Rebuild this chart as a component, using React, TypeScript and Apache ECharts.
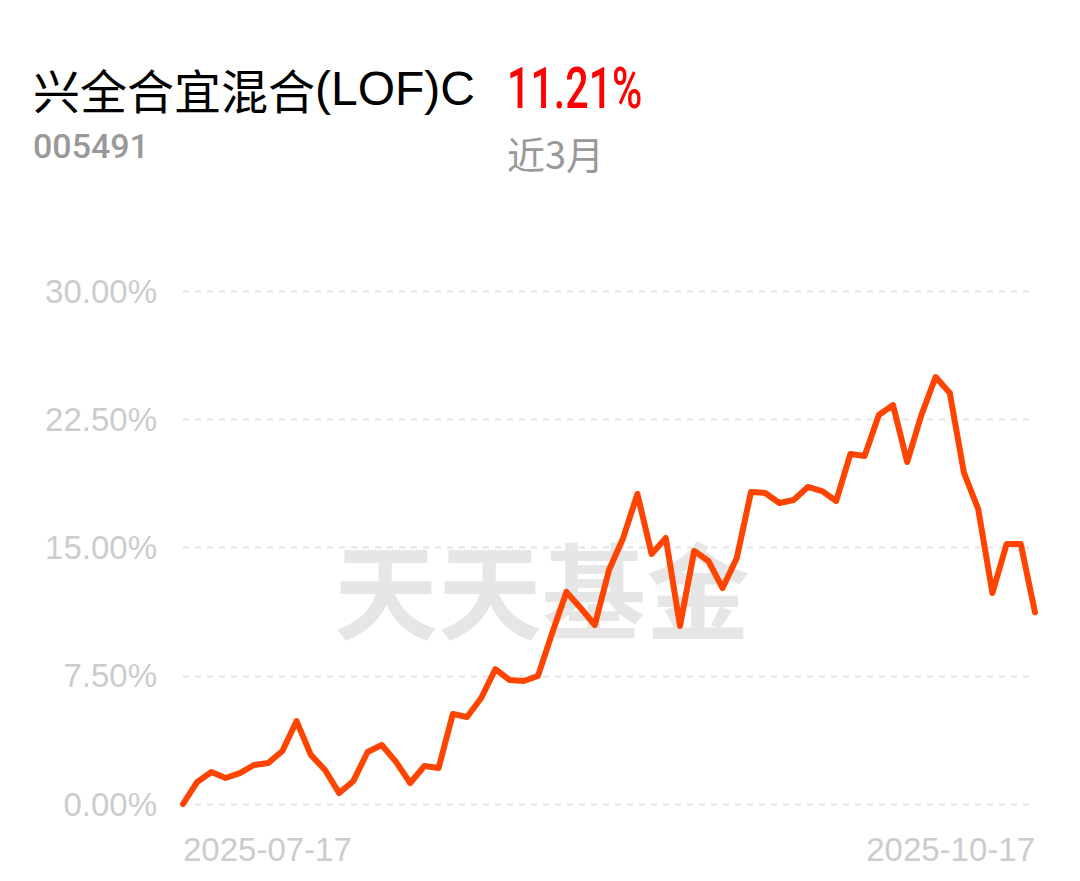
import React, { useEffect, useRef } from "react";
import * as echarts from "echarts";

const fundNameCn = "兴全合宜混合";
const fundNameLatin = "(LOF)C";
const fundCode = "005491";
const periodReturn = "11.21%";
const periodLabel = "近3月";
const watermark = "天天基金";

const dates: string[] = [
  "2025-07-17","2025-07-18","2025-07-21","2025-07-22","2025-07-23","2025-07-24","2025-07-25","2025-07-28","2025-07-29","2025-07-30","2025-07-31",
  "2025-08-01","2025-08-04","2025-08-05","2025-08-06","2025-08-07","2025-08-08","2025-08-11","2025-08-12","2025-08-13","2025-08-14","2025-08-15",
  "2025-08-18","2025-08-19","2025-08-20","2025-08-21","2025-08-22","2025-08-25","2025-08-26","2025-08-27","2025-08-28","2025-08-29",
  "2025-09-01","2025-09-02","2025-09-03","2025-09-04","2025-09-05","2025-09-08","2025-09-09","2025-09-10","2025-09-11","2025-09-12",
  "2025-09-15","2025-09-16","2025-09-17","2025-09-18","2025-09-19","2025-09-22","2025-09-23","2025-09-24","2025-09-25","2025-09-26",
  "2025-09-29","2025-09-30","2025-10-09","2025-10-10","2025-10-13","2025-10-14","2025-10-15","2025-10-16","2025-10-17"
];

const returns: number[] = [
  0, 1.29, 1.87, 1.52, 1.81, 2.28, 2.40, 3.10, 4.85, 2.87, 1.99,
  0.64, 1.35, 3.04, 3.45, 2.46, 1.23, 2.22, 2.11, 5.26, 5.09,
  6.20, 7.89, 7.25, 7.19, 7.49, 10.0, 12.40, 11.46, 10.47, 13.68,
  15.56, 18.13, 14.62, 15.56, 10.41, 14.80, 14.21, 12.63, 14.39, 18.25,
  18.19, 17.60, 17.78, 18.54, 18.30, 17.72, 20.47, 20.35, 22.75, 23.33,
  20.0, 22.75, 24.97, 24.04, 19.36, 17.25, 12.34, 15.20, 15.20, 11.21
];

const yTicks = { min: 0, max: 30, interval: 7.5 };

export default function App() {
  const ref = useRef<HTMLDivElement>(null);
  useEffect(() => {
    if (!ref.current) return;
    const chart = echarts.init(ref.current, null, { renderer: "svg" });
    const last = dates.length - 1;
    chart.setOption({
      animation: false,
      backgroundColor: "#ffffff",
      grid: { left: 183, right: 45, top: 291, bottom: 77, containLabel: false },
      graphic: [
        {
          type: "text", z: -10, x: 542, y: 586,
          style: { text: watermark, font: "bold 104px 'Noto Sans CJK SC'", fill: "#e6e6e6", align: "center", verticalAlign: "middle" }
        },
        {
          type: "text", x: 33, y: 88,
          style: {
            text: "{cn|" + fundNameCn + "}{lt|" + fundNameLatin + "}",
            align: "left", verticalAlign: "middle",
            rich: {
              cn: { font: "47px 'Noto Sans CJK SC'", fill: "#000000", color: "#000000" },
              lt: { font: "48px 'Liberation Sans', Arial, sans-serif", fill: "#000000", color: "#000000" }
            }
          }
        },
        {
          type: "text", x: 507, y: 88, scaleX: 0.71,
          style: { text: periodReturn, font: "500 58px Roboto", fill: "#ff0000", align: "left", verticalAlign: "middle" }
        },
        {
          type: "text", x: 33, y: 146,
          style: { text: fundCode, font: "500 34px Roboto", fill: "#999999", align: "left", verticalAlign: "middle" }
        },
        {
          type: "text", x: 507, y: 152,
          style: { text: periodLabel, font: "38px 'Noto Sans CJK SC'", fill: "#999999", align: "left", verticalAlign: "middle" }
        }
      ],
      xAxis: {
        type: "category",
        data: dates,
        boundaryGap: false,
        axisLine: { show: false },
        axisTick: { show: false },
        axisLabel: {
          interval: (i: number) => i === 0 || i === last,
          color: "#cccccc",
          fontSize: 33,
          fontFamily: "'Liberation Sans', Arial, sans-serif",
          margin: 29,
          alignMinLabel: "left",
          alignMaxLabel: "right",
          showMinLabel: true,
          showMaxLabel: true
        },
        splitLine: { show: false }
      },
      yAxis: {
        type: "value",
        min: yTicks.min,
        max: yTicks.max,
        interval: yTicks.interval,
        axisLine: { show: false },
        axisTick: { show: false },
        axisLabel: {
          color: "#cccccc",
          fontSize: 33,
          fontFamily: "'Liberation Sans', Arial, sans-serif",
          margin: 26,
          formatter: (v: number) => v.toFixed(2) + "%"
        },
        splitLine: { show: true, lineStyle: { color: "#e8e8e8", width: 2.5, type: [6, 6] } }
      },
      series: [
        {
          type: "line",
          data: returns,
          symbol: "none",
          smooth: false,
          lineStyle: { color: "#ff4400", width: 6, join: "round", cap: "round" },
          z: 5
        }
      ]
    });
    return () => chart.dispose();
  }, []);
  return <div ref={ref} style={{ position: "fixed", left: 0, top: 0, width: 1080, height: 881 }} />;
}
